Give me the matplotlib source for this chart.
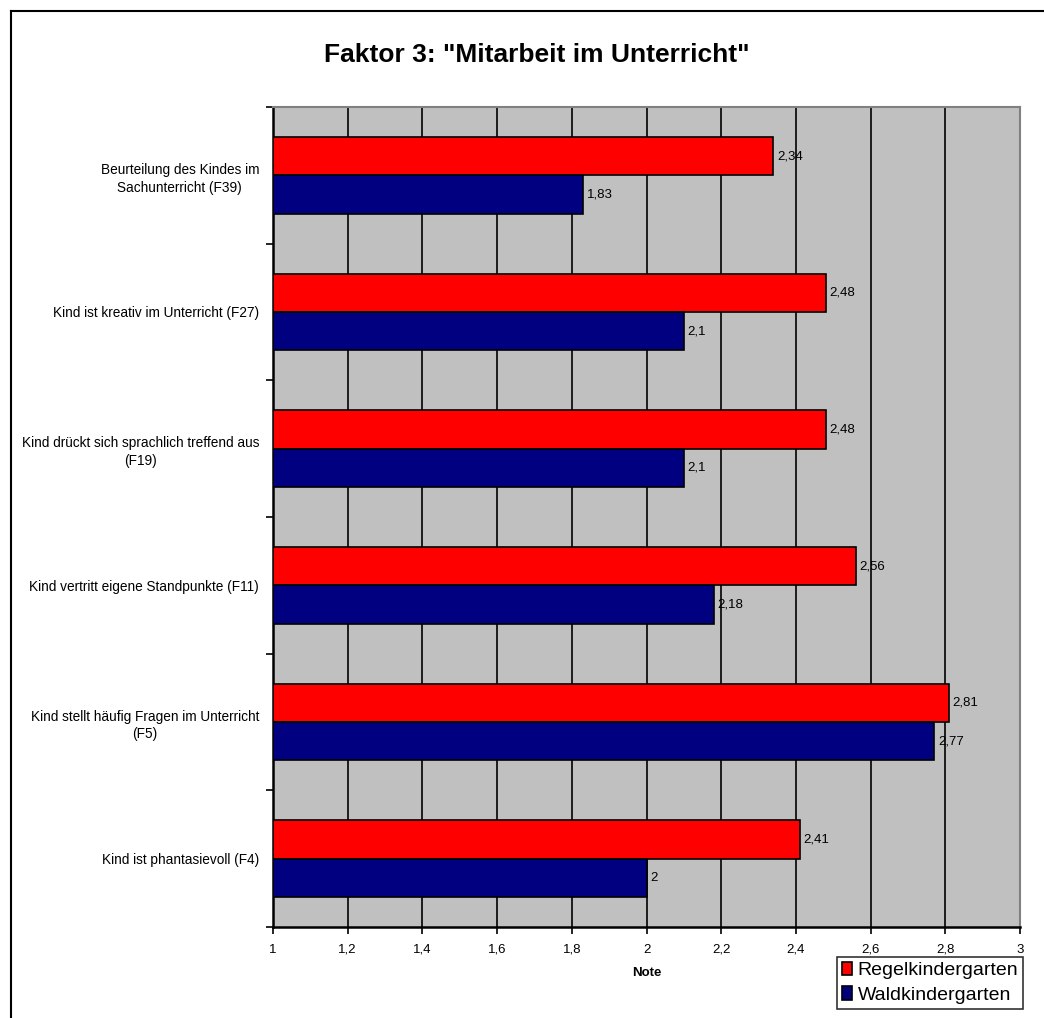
import matplotlib.pyplot as plt
from matplotlib.lines import Line2D
from matplotlib.ticker import FuncFormatter
import numpy as np

plt.rcParams['font.family'] = ['Liberation Sans', 'DejaVu Sans']

labels = [
    'Beurteilung des Kindes im\nSachunterricht (F39)',
    'Kind ist kreativ im Unterricht (F27)',
    'Kind drückt sich sprachlich treffend aus\n(F19)',
    'Kind vertritt eigene Standpunkte (F11)',
    'Kind stellt häufig Fragen im Unterricht\n(F5)',
    'Kind ist phantasievoll (F4)',
]
regel = [2.34, 2.48, 2.48, 2.56, 2.81, 2.41]
wald = [1.83, 2.1, 2.1, 2.18, 2.77, 2.0]
xticks = [1, 1.2, 1.4, 1.6, 1.8, 2, 2.2, 2.4, 2.6, 2.8, 3]


def komma(v):
    s = ('%.2f' % v).rstrip('0').rstrip('.')
    return s.replace('.', ',')


fig = plt.figure(figsize=(10.44, 10.18), dpi=100)
ax = fig.add_axes([273 / 1044, 1 - 927 / 1018, 747 / 1044, 820 / 1018])

# border of the chart area (only left/top visible in the crop)
fig.add_artist(Line2D([11 / 1044, 11 / 1044], [0, 1 - 11 / 1018], color='black', lw=1.5))
fig.add_artist(Line2D([11 / 1044, 1], [1 - 11 / 1018, 1 - 11 / 1018], color='black', lw=1.5))

n = len(labels)
pos = np.arange(n)[::-1]  # first category on top
h = 0.28
ax.barh(pos + h / 2, [r - 1 for r in regel], height=h, left=1, color='#FF0000',
        edgecolor='black', linewidth=1.2, zorder=3, label='Regelkindergarten')
ax.barh(pos - h / 2, [w - 1 for w in wald], height=h, left=1, color='#000080',
        edgecolor='black', linewidth=1.2, zorder=3, label='Waldkindergarten')

for p, r, w in zip(pos, regel, wald):
    ax.text(r + 0.01, p + h / 2, komma(r), va='center', ha='left', fontsize=9.5, zorder=4)
    ax.text(w + 0.01, p - h / 2, komma(w), va='center', ha='left', fontsize=9.5, zorder=4)

ax.set_xlim(1, 3)
ax.set_ylim(-0.5, n - 0.5)
ax.set_facecolor('#C0C0C0')
ax.set_xticks(xticks)
ax.xaxis.set_major_formatter(FuncFormatter(lambda v, _: komma(v)))
for x in xticks[1:-1]:
    ax.axvline(x, color='black', lw=1.2, zorder=1)

ax.set_yticks(pos)
ax.set_yticklabels(labels, multialignment='center', linespacing=1.35)
ax.set_yticks(np.arange(n + 1) - 0.5, minor=True)
ax.tick_params(axis='y', which='major', length=0, pad=10, labelsize=9.8)
ax.tick_params(axis='y', which='minor', length=5, width=1.2, direction='out')
ax.tick_params(axis='x', length=5, width=1.2, direction='out', labelsize=9.5, pad=7)

for s in ['top', 'right']:
    ax.spines[s].set_color('#808080')
    ax.spines[s].set_linewidth(1.5)
for s in ['left', 'bottom']:
    ax.spines[s].set_color('black')
    ax.spines[s].set_linewidth(1.8)

ax.set_xlabel('Note', fontweight='bold', fontsize=9.5, labelpad=8)
fig.text(537 / 1044, 1 - 55 / 1018, 'Faktor 3: "Mitarbeit im Unterricht"',
         ha='center', va='center', fontsize=19, fontweight='bold')

leg = ax.legend(loc='upper left', bbox_to_anchor=(837 / 1044, 1 - 957 / 1018),
                bbox_transform=fig.transFigure, fontsize=14, frameon=True,
                fancybox=False, edgecolor='black', borderpad=0.25, labelspacing=0.35,
                handlelength=0.5, handleheight=0.7, handletextpad=0.3, borderaxespad=0)
leg.get_frame().set_linewidth(1.2)

plt.savefig('out.png', dpi=100)
